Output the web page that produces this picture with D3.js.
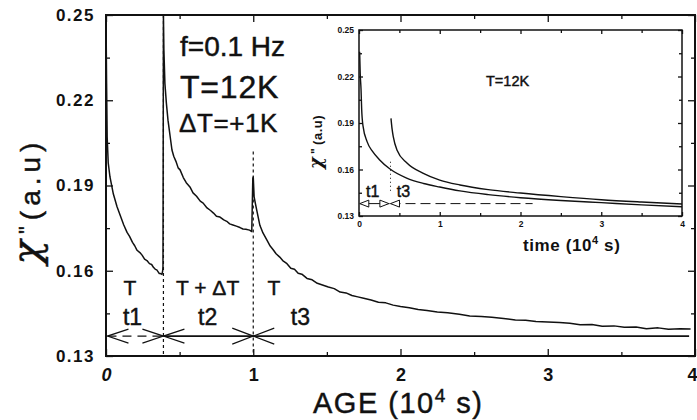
<!DOCTYPE html>
<html><head><meta charset="utf-8">
<script src="https://cdn.jsdelivr.net/npm/d3@7"></script>
<style>
body{margin:0;background:#fff;}
svg{display:block;font-family:"Liberation Sans",Arial,Helvetica,sans-serif;}
.heavy{stroke:#111;stroke-width:0.45px;}
</style></head>
<body><svg id="c" width="697" height="420"></svg>
<script>
// ---------- data ----------
const yTicks = [0.13, 0.16, 0.19, 0.22, 0.25];
const yMinor = [0.145, 0.175, 0.205, 0.235];
const xTicks = [0, 1, 2, 3, 4];
const xMinor = [0.5, 1.5, 2.5, 3.5];

// main curve: age (10^4 s) vs chi''
const mainAge = [0, 0.004, 0.008, 0.015, 0.027, 0.05, 0.075, 0.1, 0.12, 0.143, 0.16, 0.18, 0.195, 0.211, 0.23, 0.245, 0.262, 0.278, 0.295, 0.31, 0.322, 0.335, 0.345, 0.353, 0.362, 0.37, 0.38, 0.385, 0.387,
  0.39, 0.393, 0.40, 0.41, 0.421, 0.435, 0.448, 0.46, 0.475, 0.49, 0.503, 0.525, 0.545, 0.57, 0.591, 0.615, 0.64, 0.66, 0.686, 0.71, 0.73, 0.75, 0.774, 0.8, 0.82, 0.84, 0.862, 0.885, 0.91, 0.93, 0.95, 0.975, 0.99,
  0.993, 0.997, 1.0, 1.006, 1.015, 1.025, 1.045, 1.066, 1.093, 1.115, 1.134, 1.155, 1.18, 1.2, 1.229, 1.255, 1.28, 1.305, 1.33, 1.365, 1.4, 1.435, 1.47, 1.51, 1.55, 1.59, 1.63, 1.67, 1.71, 1.75, 1.8, 1.85, 1.9, 1.95, 2.0,
  2.06, 2.12, 2.18, 2.25, 2.32, 2.4, 2.47, 2.55, 2.62, 2.7, 2.78, 2.85, 2.92, 3.0, 3.08, 3.15, 3.22, 3.3, 3.37, 3.45, 3.52, 3.6, 3.67, 3.75, 3.82, 3.9, 3.97];
const mainChi = [0.25, 0.226, 0.207, 0.198, 0.193, 0.187, 0.1825, 0.179, 0.1762, 0.1735, 0.1721, 0.170, 0.1688, 0.1672, 0.1664, 0.1655, 0.1641, 0.1636, 0.1625, 0.1622, 0.1612, 0.1605, 0.1603, 0.1597, 0.1590, 0.1590, 0.1587, 0.1600, 0.1615,
  0.25, 0.238, 0.226, 0.219, 0.213, 0.2075, 0.2025, 0.2003, 0.1985, 0.1962, 0.1955, 0.1928, 0.191, 0.1895, 0.1874, 0.1862, 0.1845, 0.1838, 0.1821, 0.1812, 0.1803, 0.1792, 0.1789, 0.1779, 0.1774, 0.1765, 0.1761, 0.1757, 0.1752, 0.1747, 0.1746, 0.1743, 0.1738,
  0.182, 0.1925, 0.193, 0.186, 0.1835, 0.181, 0.176, 0.1733, 0.1708, 0.1687, 0.1675, 0.1660, 0.1648, 0.1636, 0.1625, 0.1609, 0.1605, 0.1591, 0.1588, 0.1573, 0.1568, 0.1556, 0.1550, 0.1543, 0.1537, 0.1525, 0.1522, 0.1513, 0.1508, 0.1503, 0.1497, 0.1489, 0.1487, 0.1479, 0.1474,
  0.1470, 0.1464, 0.1460, 0.1455, 0.1452, 0.1447, 0.1441, 0.1439, 0.1436, 0.1432, 0.1427, 0.1426, 0.1421, 0.1420, 0.1418, 0.1415, 0.1410, 0.1411, 0.1405, 0.1406, 0.1401, 0.1402, 0.1396, 0.1399, 0.1394, 0.1396, 0.1395];

// inset: curve measured at constant T from t=0
const insetAgeA = [0.008, 0.015, 0.025, 0.033, 0.05, 0.1, 0.17, 0.25, 0.38, 0.59, 0.8, 1.0, 1.25, 1.6, 2.0, 2.5, 3.0, 3.5, 4.0];
const insetChiA = [0.236, 0.222, 0.212, 0.199, 0.188, 0.178, 0.1715, 0.1665, 0.1605, 0.1545, 0.151, 0.1487, 0.1462, 0.1438, 0.1418, 0.1400, 0.1386, 0.1372, 0.1360];
// inset: t3 part of the cycle, shifted
const insetAgeB = [0.396, 0.41, 0.425, 0.47, 0.594, 0.79, 1.0, 1.25, 1.6, 2.0, 2.5, 3.0, 3.5, 4.0];
const insetChiB = [0.193, 0.186, 0.181, 0.1726, 0.1642, 0.1577, 0.1532, 0.150, 0.1470, 0.1448, 0.1425, 0.1405, 0.139, 0.1377];

const phaseBounds = [0, 0.39, 1.0, 4];
const phaseTemp = ["T", "T + \u0394T", "T"];
const phaseName = ["t1", "t2", "t3"];

// ---------- drawing ----------
const svg = d3.select("#c");
svg.append("rect").attr("width", 697).attr("height", 420).attr("fill", "#fff");

const x = d3.scaleLinear().domain([0, 4]).range([106, 695]);
const y = d3.scaleLinear().domain([0.13, 0.25]).range([356, 15]);

function frame(g, xs, ys, major, minor, showLabels, fs, pad, sw) {
  const [x0, x1] = xs.range(), [y0, y1] = ys.range();
  const mk = (axis, tr) => g.append("g").attr("transform", tr).call(axis)
      .call(s => s.select(".domain").remove())
      .call(s => s.selectAll("line").attr("stroke", "#111").attr("stroke-width", 1.3));
  const left = mk(d3.axisLeft(ys).tickValues(yTicks).tickSize(-major).tickSizeOuter(0).tickPadding(pad)
      .tickFormat(showLabels ? d3.format(".2f") : ""), `translate(${x0},0)`);
  const bottom = mk(d3.axisBottom(xs).tickValues(xTicks).tickSize(-major).tickSizeOuter(0).tickPadding(pad)
      .tickFormat(showLabels ? d3.format("d") : ""), `translate(0,${y0})`);
  mk(d3.axisRight(ys).tickValues(yTicks).tickSize(-major).tickSizeOuter(0).tickFormat(""), `translate(${x1},0)`);
  mk(d3.axisTop(xs).tickValues(xTicks).tickSize(-major).tickSizeOuter(0).tickFormat(""), `translate(0,${y1})`);
  mk(d3.axisLeft(ys).tickValues(yMinor).tickSize(-minor).tickFormat(""), `translate(${x0},0)`);
  mk(d3.axisRight(ys).tickValues(yMinor).tickSize(-minor).tickFormat(""), `translate(${x1},0)`);
  mk(d3.axisBottom(xs).tickValues(xMinor).tickSize(-minor).tickFormat(""), `translate(0,${y0})`);
  mk(d3.axisTop(xs).tickValues(xMinor).tickSize(-minor).tickFormat(""), `translate(0,${y1})`);
  [left, bottom].forEach(a => a.selectAll("text").attr("font-size", fs).attr("font-weight", "bold")
      .attr("fill", "#111").attr("font-family", "'Liberation Sans',Arial,sans-serif"));
  g.append("rect").attr("x", x0).attr("y", y1).attr("width", x1 - x0).attr("height", y0 - y1)
    .attr("fill", "none").attr("stroke", "#111").attr("stroke-width", sw);
  return { left, bottom };
}

// main frame
const main = svg.append("g");
const ax = frame(main, x, y, 7, 4, true, 17, 11, 2);
ax.left.selectAll("text").attr("letter-spacing", 1.5);
ax.bottom.selectAll("text").attr("font-size", 18).attr("dy", "0.75em");
ax.bottom.selectAll("text").filter(d => d === 0).attr("font-style", "italic");
ax.bottom.selectAll("text").filter(d => d === 4).attr("text-anchor", "end").attr("dx", 2);

// phase boundaries
main.append("line").attr("x1", x(phaseBounds[1])).attr("x2", x(phaseBounds[1]))
  .attr("y1", y(0.25)).attr("y2", y(0.13)).attr("stroke", "#111").attr("stroke-width", 1.2).attr("stroke-dasharray", "3,3");
main.append("line").attr("x1", x(phaseBounds[2])).attr("x2", x(phaseBounds[2]))
  .attr("y1", y(0.202)).attr("y2", y(0.13)).attr("stroke", "#111").attr("stroke-width", 1.2).attr("stroke-dasharray", "3,3");

// arrow line
const arrowChi = 0.137;
const ay = y(arrowChi);
main.append("line").attr("x1", x(0.01)).attr("x2", x(phaseBounds[1])).attr("y1", ay).attr("y2", ay)
  .attr("stroke", "#111").attr("stroke-width", 1.3).attr("stroke-dasharray", "9,6");
main.append("line").attr("x1", x(phaseBounds[1])).attr("x2", x(3.96)).attr("y1", ay).attr("y2", ay)
  .attr("stroke", "#111").attr("stroke-width", 1.6);
function chevron(px, dir, len, h) {
  main.append("path").attr("d", `M${px + dir * len},${ay - h}L${px},${ay}L${px + dir * len},${ay + h}`)
    .attr("fill", "none").attr("stroke", "#111").attr("stroke-width", 1.2);
}
chevron(x(0.01), 1, 21, 7);
chevron(x(phaseBounds[1]), -1, 21, 7);
chevron(x(phaseBounds[1]), 1, 21, 7);
chevron(x(phaseBounds[2]), -1, 21, 8);
chevron(x(phaseBounds[2]), 1, 21, 8);

// phase labels
const tempX = [0.163, 0.69, 1.14];
const nameX = [0.18, 0.69, 1.32];
phaseTemp.forEach((t, i) => main.append("text").attr("class", "heavy").attr("x", x(tempX[i])).attr("y", 295).attr("text-anchor", "middle")
  .attr("font-size", 21).attr("fill", "#111").text(t));
phaseName.forEach((t, i) => main.append("text").attr("class", "heavy").attr("x", x(nameX[i])).attr("y", 325).attr("text-anchor", "middle")
  .attr("font-size", 23).attr("fill", "#111").text(t));

// main curve
const line = d3.line().x(d => x(d[0])).y(d => y(d[1]));
main.append("path").datum(mainAge.map((a, i) => [a, mainChi[i]])).attr("d", line)
  .attr("fill", "none").attr("stroke", "#111").attr("stroke-width", 1.5).attr("stroke-linejoin", "round");

// annotations
main.append("text").attr("class", "heavy").attr("x", 180).attr("y", 56).attr("font-size", 28).attr("fill", "#111").text("f=0.1 Hz");
main.append("text").attr("class", "heavy").attr("x", 180).attr("y", 98).attr("font-size", 32).attr("letter-spacing", 0.8).attr("fill", "#111").text("T=12K");
main.append("text").attr("class", "heavy").attr("x", 179).attr("y", 132).attr("font-size", 26).attr("letter-spacing", 0.6).attr("fill", "#111").text("\u0394T=+1K");

// axis titles
const yl = svg.append("text").attr("class", "heavy").attr("transform", "translate(40,201) rotate(-90)").attr("text-anchor", "middle").attr("fill", "#111");
yl.append("tspan").attr("font-size", 40).attr("font-family", "'DejaVu Serif',serif").attr("font-style", "italic").text("\u03C7");
yl.append("tspan").attr("font-size", 22).attr("dy", -6).text(" \"  ");
yl.append("tspan").attr("font-size", 28).attr("dy", 6).attr("letter-spacing", 5).text("(a.u)");

const xl = svg.append("text").attr("class", "heavy").attr("x", 313).attr("y", 413).attr("font-size", 29).attr("fill", "#111").attr("letter-spacing", 1.5);
xl.append("tspan").text("AGE (10");
xl.append("tspan").attr("font-size", 19).attr("dy", -11).text("4");
xl.append("tspan").attr("dy", 11).text(" s)");

// ---------- inset ----------
const xi = d3.scaleLinear().domain([0, 4]).range([359, 682]);
const yi = d3.scaleLinear().domain([0.13, 0.25]).range([216, 30]);
const ins = svg.append("g");
ins.append("rect").attr("x", 359).attr("y", 30).attr("width", 323).attr("height", 186).attr("fill", "#fff");
const iax = frame(ins, xi, yi, 4, 3, true, 8.5, 5, 1.5);
iax.bottom.selectAll("text").attr("dy", "0.75em");

const li = d3.line().x(d => xi(d[0])).y(d => yi(d[1])).curve(d3.curveMonotoneX);
ins.append("path").datum(insetAgeA.map((a, i) => [a, insetChiA[i]])).attr("d", li)
  .attr("fill", "none").attr("stroke", "#111").attr("stroke-width", 1.4);
ins.append("path").datum(insetAgeB.map((a, i) => [a, insetChiB[i]])).attr("d", li)
  .attr("fill", "none").attr("stroke", "#111").attr("stroke-width", 1.4);
ins.append("line").attr("x1", xi(0.39)).attr("x2", xi(0.39)).attr("y1", yi(0.165)).attr("y2", yi(0.145))
  .attr("stroke", "#111").attr("stroke-width", 1).attr("stroke-dasharray", "1,3");

const iy = yi(0.138);
ins.append("line").attr("x1", xi(0.01)).attr("x2", xi(0.38)).attr("y1", iy).attr("y2", iy).attr("stroke", "#111").attr("stroke-width", 1);
ins.append("line").attr("x1", xi(0.39)).attr("x2", xi(2.15)).attr("y1", iy).attr("y2", iy)
  .attr("stroke", "#111").attr("stroke-width", 1).attr("stroke-dasharray", "10,5");
function tri(px, dir) {
  ins.append("path").attr("d", `M${px},${iy}L${px + dir * 9},${iy - 3.5}L${px + dir * 9},${iy + 3.5}Z`)
    .attr("fill", "#fff").attr("stroke", "#111").attr("stroke-width", 1);
}
tri(xi(0.01), 1);
tri(xi(0.37), -1);
tri(xi(0.39), 1);

ins.append("text").attr("class", "heavy").attr("x", xi(0.17)).attr("y", 197).attr("text-anchor", "middle").attr("font-size", 16).attr("fill", "#111").text("t1");
ins.append("text").attr("class", "heavy").attr("x", xi(0.55)).attr("y", 197).attr("text-anchor", "middle").attr("font-size", 16).attr("fill", "#111").text("t3");
ins.append("text").attr("class", "heavy").attr("x", 486).attr("y", 86).attr("font-size", 14.5).attr("fill", "#111").text("T=12K");

const it = ins.append("text").attr("x", 523).attr("y", 251).attr("font-size", 17).attr("font-weight", "bold").attr("letter-spacing", 0.6).attr("fill", "#111");
it.append("tspan").text("time (10");
it.append("tspan").attr("font-size", 11).attr("dy", -7).text("4");
it.append("tspan").attr("dy", 7).text(" s)");

const iyl = ins.append("text").attr("transform", "translate(322,142) rotate(-90)").attr("text-anchor", "middle")
  .attr("font-weight", "bold").attr("fill", "#111");
iyl.append("tspan").attr("font-size", 18).attr("font-family", "'DejaVu Serif',serif").attr("font-style", "italic").text("\u03C7");
iyl.append("tspan").attr("font-size", 12).attr("dy", -2).text(" \"  ");
iyl.append("tspan").attr("font-size", 13).attr("dy", 2).attr("letter-spacing", 0.5).text("(a.u)");
</script></body></html>
